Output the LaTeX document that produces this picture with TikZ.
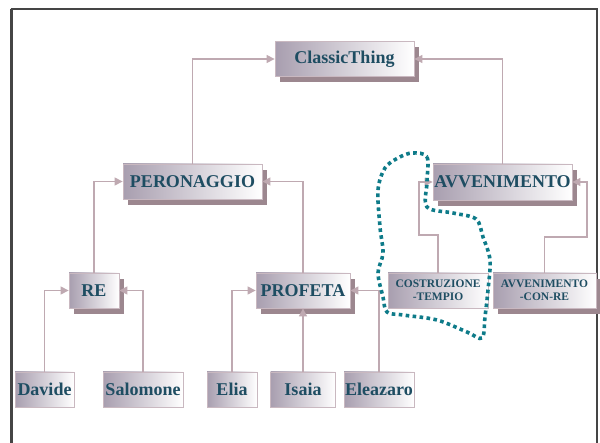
\documentclass[tikz,border=0pt]{standalone}
\usepackage{fontspec}
\setmainfont{Liberation Serif}
\usetikzlibrary{shadows,arrows.meta}
\definecolor{txt}{HTML}{1E4D62}
\definecolor{boxl}{HTML}{A89EAF}
\definecolor{boxb}{HTML}{C9B8C0}
\definecolor{shad}{HTML}{9C878F}
\definecolor{connc}{HTML}{BFA9B1}
\definecolor{dotc}{HTML}{0E7B89}
\definecolor{framec}{HTML}{454545}
\begin{document}
\begin{tikzpicture}[x=1pt,y=-1pt,
  cls/.style={draw=boxb, line width=0.8pt, left color=boxl, right color=white,
    inner sep=0pt, text=txt, font=\bfseries\fontsize{18}{20}\selectfont,
    minimum height=35pt, align=center},
  shd/.style={drop shadow={shadow xshift=5pt, shadow yshift=-6pt, fill=shad, opacity=1}},
  smalltxt/.style={font=\bfseries\fontsize{11.5}{13}\selectfont},
  link/.style={draw=connc, line width=1.2pt, -{Triangle[length=8pt,width=8pt]}},
  dotline/.style={draw=dotc, line width=3.6pt, dash pattern=on 3.6pt off 3.4pt}
  ]
\useasboundingbox (0,0) rectangle (600,443);
\fill[white] (0,0) rectangle (600,443);
% frame
\draw[framec, line width=2.2pt] (11.5,443) -- (11.5,9);
\draw[framec, line width=1.2pt] (10.5,9) -- (597,9) -- (597,443);

% class nodes
\node[cls, shd, minimum width=139pt] (CT) at (344.5,59) {ClassicThing};
\node[cls, shd, minimum width=139pt] (PER) at (192.5,181.5) {PERONAGGIO};
\node[cls, shd, minimum width=139pt, minimum height=36pt] (AVV) at (502.5,182) {AVVENIMENTO};
\node[cls, shd, minimum width=50pt] (RE) at (94,290.5) {RE};
\node[cls, shd, minimum width=94pt] (PROF) at (303,290.5) {PROFETA};
\node[cls, smalltxt, minimum width=100pt] (COST) at (438,290.5) {COSTRUZIONE\\-TEMPIO};
\node[cls, shd, smalltxt, minimum width=103pt] (AVVCR) at (544.5,290.5) {AVVENIMENTO\\-CON-RE};

% leaves
\node[cls, minimum width=59pt] (DAV) at (44.5,389.5) {Davide};
\node[cls, minimum width=80pt] (SAL) at (143,389.5) {Salomone};
\node[cls, minimum width=50pt] (ELIA) at (232,389.5) {Elia};
\node[cls, minimum width=65pt] (ISA) at (303,389.5) {Isaia};
\node[cls, minimum width=70pt] (ELE) at (379,389.5) {Eleazaro};

% connectors
\draw[link] (PER.north) |- (CT.west);
\draw[link] (AVV.north) |- (CT.east);
\draw[link] (RE.north) |- (PER.west);
\draw[link] (PROF.north) |- (PER.east);
\draw[link] (DAV.north) |- (RE.west);
\draw[link] (SAL.north) |- (RE.east);
\draw[link] (ELIA.north) |- (PROF.west);
\draw[link] (ISA.north) -- (PROF.south);
\draw[link] (ELE.north) |- (PROF.east);
\draw[link] (COST.north) |- (419,235) |- (AVV.west);
\draw[link] (AVVCR.north) |- (587,237) |- (AVV.east);

% dotted outline
\draw[dotline] plot[smooth cycle, tension=0.55] coordinates {
 (412,153) (427,157) (427,182) (427,207) (453,213) (476,219) (483,237)
 (490,260) (488,290) (485,317) (482,338) (467,332) (437,320) (403,315)
 (387,312) (383,297) (378,273) (383,253) (380,227) (378,190) (385,168) (398,158)};
\end{tikzpicture}
\end{document}
